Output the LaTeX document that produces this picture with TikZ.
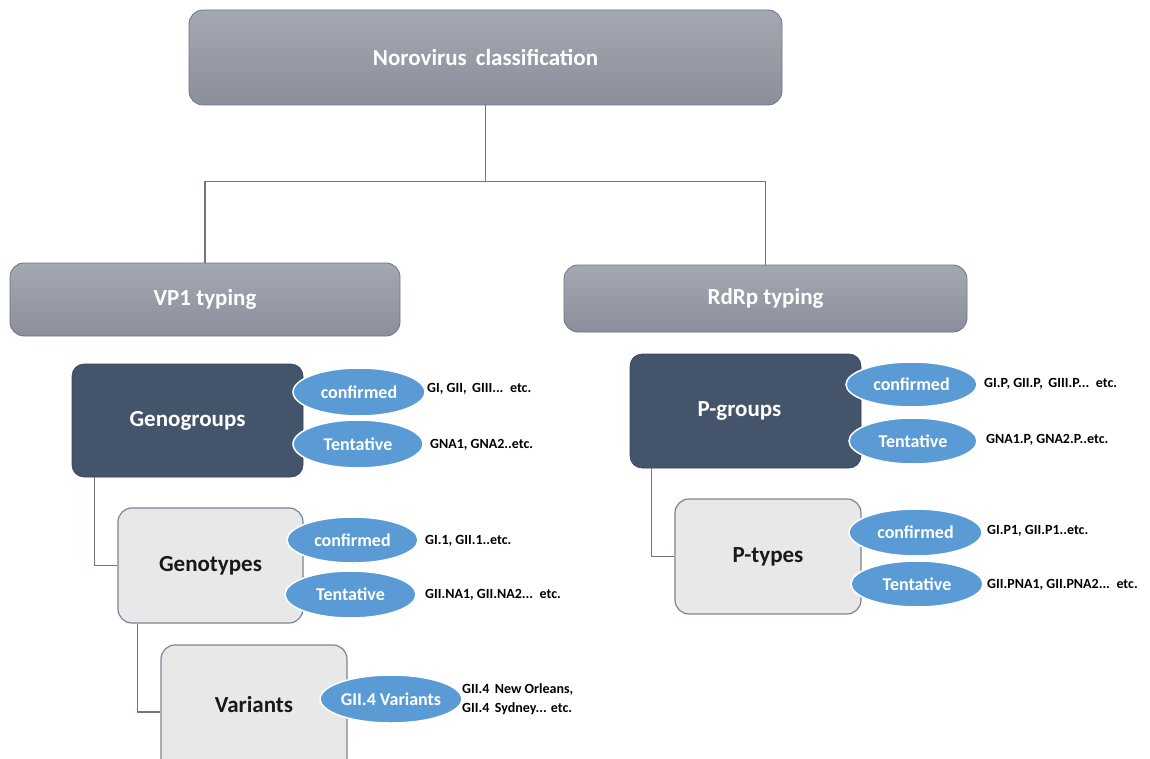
\documentclass[tikz,border=0pt]{standalone}
\usepackage{fontspec}
\setmainfont{Carlito}
\usetikzlibrary{calc}
\definecolor{topA}{HTML}{A4A8B2}
\definecolor{topB}{HTML}{8A8F9B}
\definecolor{edgegrey}{HTML}{6E7585}
\definecolor{darkbox}{HTML}{44546A}
\definecolor{lightbox}{HTML}{E8E8E9}
\definecolor{lightedge}{HTML}{7C8595}
\definecolor{ellblue}{HTML}{5B9BD5}
\definecolor{linegrey}{HTML}{6E7787}
\tikzset{
  greybox/.style={draw=edgegrey, line width=0.8pt, rounded corners=14pt, top color=topA, bottom color=topB,
    text=white, font=\fontsize{23}{28}\selectfont\bfseries, inner sep=0pt},
  darkboxs/.style={draw=darkbox!80!black, line width=0.6pt, rounded corners=12pt, fill=darkbox,
    text=white, font=\fontsize{23}{28}\selectfont\bfseries, inner sep=0pt},
  lightboxs/.style={draw=lightedge, line width=1.2pt, rounded corners=14pt, fill=lightbox,
    text=black!90, font=\fontsize{23}{28}\selectfont\bfseries, inner sep=0pt},
  ell/.style={ellipse, draw=white, line width=1.5pt, fill=ellblue, text=white,
    font=\fontsize{18}{22}\selectfont\bfseries, inner sep=0pt},
  lbl/.style={anchor=west, inner sep=0pt, text=black, font=\fontsize{14}{18}\selectfont\bfseries, align=left},
  conn/.style={draw=linegrey, line width=1.5pt}
}
\usetikzlibrary{shapes.geometric}
\begin{document}
\begin{tikzpicture}[x=1pt,y=-1pt]
\useasboundingbox (0,0) rectangle (1150,759);
\fill[white] (0,0) rectangle (1150,759);
% boxes
\node[greybox, minimum width=593pt, minimum height=95pt] (top) at (485.5,57.5) {Norovirus\, classification};
\node[greybox, minimum width=390pt, minimum height=73pt] (vp1) at (205,299.5) {VP1 typing};
\node[greybox, minimum width=403pt, minimum height=67pt] (rdrp) at (765.5,298.5) {RdRp typing};
\node[darkboxs, minimum width=231pt, minimum height=113pt] (geno) at (187.5,420.5) {Genogroups};
\node[lightboxs, minimum width=185pt, minimum height=115pt] (gtype) at (210.5,565.5) {Genotypes};
\node[lightboxs, minimum width=186pt, minimum height=134pt] (var) at (254,712) {\raisebox{15pt}{Variants}};
\node[darkboxs, minimum width=231pt, minimum height=114pt] (pgrp) at (745.5,411) {\hspace*{-12pt}P-groups};
\node[lightboxs, minimum width=186pt, minimum height=115pt] (ptype) at (768,556.5) {P-types};
% connectors
\coordinate (split) at ($(top.south)+(0,76)$);
\draw[conn] (top.south) -- (split);
\draw[conn] (split) -| (vp1.north);
\draw[conn] (split) -| (rdrp.north);
\draw[conn] ($(geno.south west)+(23,0)$) |- (gtype.west);
\draw[conn] ($(gtype.south west)+(20,0)$) |- (var.west);
\draw[conn] ($(pgrp.south west)+(22,0)$) |- (ptype.west);
% ellipses
\node[ell, minimum width=132pt, minimum height=48pt] (e1) at (359,392) {confirmed};
\node[ell, minimum width=130pt, minimum height=48pt] (e2) at (358,444) {Tentative};
\node[ell, minimum width=131pt, minimum height=46pt] (e3) at (352.5,540) {confirmed};
\node[ell, minimum width=131pt, minimum height=47pt] (e4) at (350.5,594.5) {Tentative};
\node[ell, minimum width=132pt, minimum height=48pt] (e5) at (391,699) {GII.4 Variants};
\node[ell, minimum width=131pt, minimum height=45pt] (e6) at (911.5,384.5) {confirmed};
\node[ell, minimum width=128pt, minimum height=46pt] (e7) at (913,441) {Tentative};
\node[ell, minimum width=133pt, minimum height=47pt] (e8) at (915.5,532.5) {confirmed};
\node[ell, minimum width=132pt, minimum height=46pt] (e9) at (917,584) {Tentative};
% labels
\node[lbl] (l1) at (427,389) {GI, GII,\, GIII...\, etc.};
\node[lbl] (l2) at (430,445) {GNA1, GNA2..etc.};
\node[lbl] (l3) at (425,541) {GI.1, GII.1..etc.};
\node[lbl] (l4) at (425,595) {GII.NA1, GII.NA2...\, etc.};
\node[lbl, font=\fontsize{14}{18.5}\selectfont\bfseries] (l5) at (462,699) {GII.4\, New Orleans,\\GII.4\, Sydney... etc.};
\node[lbl] (l6) at (984,384) {GI.P, GII.P,\, GIII.P...\, etc.};
\node[lbl] (l7) at (986,440) {GNA1.P, GNA2.P..etc.};
\node[lbl] (l8) at (987,531) {GI.P1, GII.P1..etc.};
\node[lbl] (l9) at (987,585) {GII.PNA1, GII.PNA2...\, etc.};
\end{tikzpicture}
\end{document}
